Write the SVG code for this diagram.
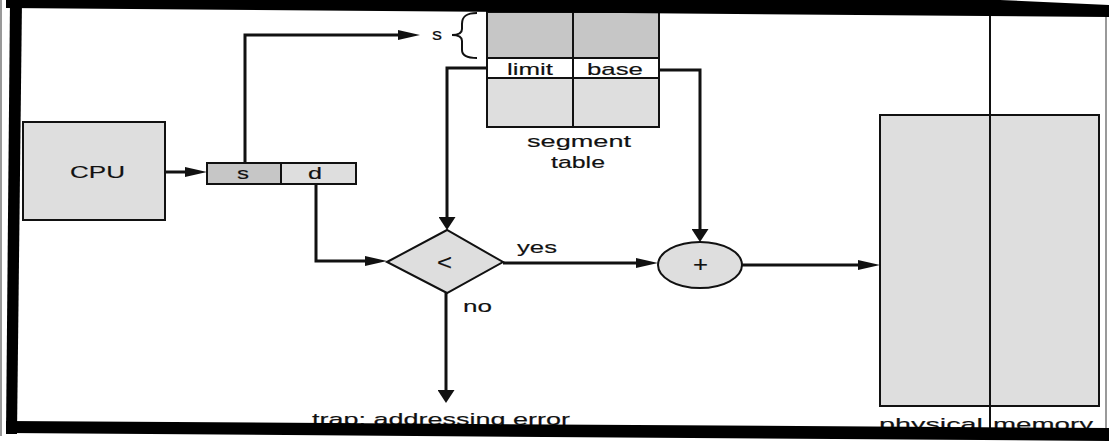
<svg xmlns="http://www.w3.org/2000/svg" width="1109" height="441" viewBox="0 0 1109 441">
<style>
.box{stroke:#111;stroke-width:2}
.light{fill:#dedede}
.dark{fill:#c6c6c6}
.white{fill:#fff}
.conn{fill:none;stroke:#111;stroke-width:3}
.t{font-family:"Liberation Sans",Arial,Helvetica,sans-serif;font-size:17px;fill:#111;stroke:#111;stroke-width:0.15}
.sym{font-size:22px}
.edge{fill:#000}
.thin{stroke:#777;stroke-width:1.5;fill:none}
</style>
<defs>
<marker id="arrowH" markerUnits="userSpaceOnUse" viewBox="0 0 22 10" markerWidth="22" markerHeight="10" refX="12" refY="5" orient="auto"><path d="M0,0 L22,5 L0,10 z" fill="#111"/></marker>
<marker id="arrowV" markerUnits="userSpaceOnUse" viewBox="0 0 13 17" markerWidth="13" markerHeight="17" refX="7" refY="8.5" orient="auto"><path d="M0,0 L13,8.5 L0,17 z" fill="#111"/></marker>
</defs>
<rect width="1109" height="441" fill="#fff"/>

<g id="cpu">
<rect class="box light" x="23" y="122" width="142" height="98"/>
<text class="t" x="70" y="178" textLength="55" lengthAdjust="spacingAndGlyphs">CPU</text>
</g>

<g id="logical-address">
<rect class="box dark" x="207" y="163" width="74" height="21"/>
<rect class="box light" x="281" y="163" width="75" height="21"/>
<text class="t" x="237" y="179" textLength="12" lengthAdjust="spacingAndGlyphs">s</text>
<text class="t" x="308" y="179" textLength="14" lengthAdjust="spacingAndGlyphs">d</text>
</g>

<g id="segment-table">
<rect class="box dark" x="487" y="12" width="86" height="46"/>
<rect class="box dark" x="573" y="12" width="86" height="46"/>
<rect class="box white" x="487" y="58" width="86" height="20"/>
<rect class="box white" x="573" y="58" width="86" height="20"/>
<rect class="box light" x="487" y="78" width="86" height="49"/>
<rect class="box light" x="573" y="78" width="86" height="49"/>
<text class="t" x="507" y="74.5" textLength="46" lengthAdjust="spacingAndGlyphs">limit</text>
<text class="t" x="587" y="74.5" textLength="56" lengthAdjust="spacingAndGlyphs">base</text>
<text class="t" x="527" y="147" textLength="104" lengthAdjust="spacingAndGlyphs">segment</text>
<text class="t" x="551" y="168" textLength="54" lengthAdjust="spacingAndGlyphs">table</text>
</g>

<g id="segment-index">
<text class="t" x="432" y="40" textLength="10" lengthAdjust="spacingAndGlyphs">s</text>
<path d="M477,13 C467,13 462,16 462,24 L462,29 C462,33 458,35 452,35 C458,35 462,37 462,41 L462,50 C462,56 467,58 477,58" fill="none" stroke="#111" stroke-width="2"/>
</g>

<g id="compare">
<polygon class="box light" points="387,262 447,230 503,262 447,293"/>
<text class="t sym" x="437" y="270" textLength="15" lengthAdjust="spacingAndGlyphs">&lt;</text>
</g>

<g id="adder">
<ellipse class="box light" cx="700" cy="265" rx="42" ry="23"/>
<text class="t sym" x="693" y="272" textLength="15" lengthAdjust="spacingAndGlyphs">+</text>
</g>

<g id="physical-memory">
<rect class="box light" x="880" y="115" width="219" height="291"/>
<line x1="990" y1="10" x2="990" y2="432" stroke="#111" stroke-width="2"/>
<text class="t" x="879" y="430" textLength="104" lengthAdjust="spacingAndGlyphs">physical</text>
<text class="t" x="993" y="430" textLength="100" lengthAdjust="spacingAndGlyphs">memory</text>
</g>

<g id="trap">
<text class="t" x="312" y="425" textLength="258" lengthAdjust="spacingAndGlyphs">trap: addressing error</text>
</g>

<g id="connectors">
<path class="conn" d="M165,172 H197" marker-end="url(#arrowH)"/>
<path class="conn" d="M245,163 V35 H410" marker-end="url(#arrowH)"/>
<path class="conn" d="M487,68 H447 V224" marker-end="url(#arrowV)"/>
<path class="conn" d="M316,184 V261 H377" marker-end="url(#arrowH)"/>
<path class="conn" d="M503,263 H648" marker-end="url(#arrowH)"/>
<path class="conn" d="M659,70 H700 V236" marker-end="url(#arrowV)"/>
<path class="conn" d="M742,265 H870" marker-end="url(#arrowH)"/>
<path class="conn" d="M446,293 V397" marker-end="url(#arrowV)"/>
<text class="t" x="517" y="253" textLength="40" lengthAdjust="spacingAndGlyphs">yes</text>
<text class="t" x="463" y="312" textLength="29" lengthAdjust="spacingAndGlyphs">no</text>
</g>

<g id="frame">
<line class="thin" x1="1" y1="0" x2="1" y2="436"/>
<line class="thin" x1="1106" y1="16" x2="1106" y2="430"/>
<polygon class="edge" points="6,0 1000,0 1109,5 1109,17 6,8"/>
<polygon class="edge" points="10,0 22,0 17,434 6,434"/>
<polygon class="edge" points="6,421 1109,428 1109,441 6,433"/>
</g>
</svg>
